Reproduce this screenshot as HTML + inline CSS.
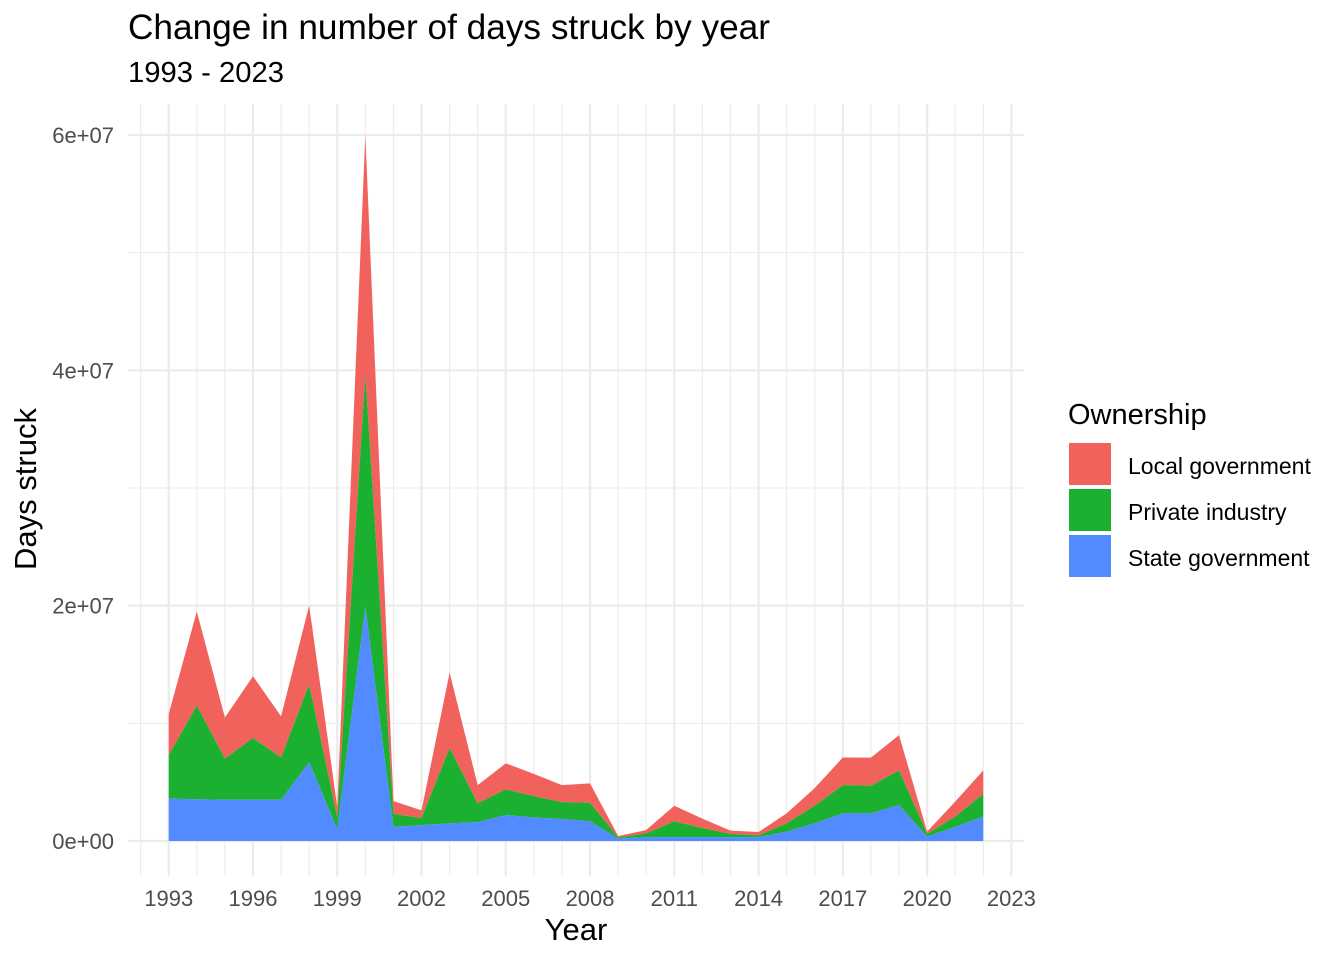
<!DOCTYPE html>
<html><head><meta charset="utf-8"><style>
body{margin:0;background:#fff;}
svg text{font-family:"Liberation Sans",Arial,sans-serif;}
</style></head><body>
<svg id="chart" width="1344" height="960" xmlns="http://www.w3.org/2000/svg">
<rect width="1344" height="960" fill="#fff"/>
<text x="128" y="39" font-size="35" fill="#000" textLength="642" lengthAdjust="spacingAndGlyphs">Change in number of days struck by year</text>
<text x="128" y="82" font-size="29" fill="#000" textLength="156" lengthAdjust="spacingAndGlyphs">1993 - 2023</text>
<g id="grid"></g><g id="areas"></g><g id="axes"></g>
<text x="576" y="940" font-size="31" text-anchor="middle" fill="#000">Year</text>
<text transform="translate(36,489) rotate(-90)" font-size="31" text-anchor="middle" fill="#000">Days struck</text>
<text x="1068" y="424" font-size="29" fill="#000">Ownership</text>
<g><rect x="1069" y="443" width="42" height="42" fill="#F2625D"/><text x="1128" y="474" font-size="23">Local government</text></g>
<g><rect x="1069" y="489" width="42" height="42" fill="#1BB02F"/><text x="1128" y="520" font-size="23">Private industry</text></g>
<g><rect x="1069" y="535" width="42" height="42" fill="#528AFF"/><text x="1128" y="566" font-size="23">State government</text></g>
</svg>
<script>
const years=[1993,1994,1995,1996,1997,1998,1999,2000,2001,2002,2003,2004,2005,2006,2007,2008,2009,2010,2011,2012,2013,2014,2015,2016,2017,2018,2019,2020,2021,2022];
const stateVals=[3.6,3.55,3.5,3.5,3.5,6.7,1.0,19.9,1.2,1.35,1.5,1.6,2.2,2.0,1.87,1.67,0.2,0.33,0.33,0.33,0.33,0.33,0.8,1.5,2.35,2.35,3.05,0.37,1.2,2.07];
const privateVals=[3.7,7.95,3.5,5.25,3.6,6.6,1.0,19.7,1.1,0.6,6.4,1.6,2.2,1.8,1.43,1.58,0.1,0.32,1.34,0.77,0.27,0.15,0.7,1.5,2.4,2.35,2.95,0.23,0.87,1.93];
const localVals=[3.5,8.0,3.5,5.25,3.5,6.7,0.9,20.4,1.1,0.65,6.4,1.55,2.2,1.9,1.45,1.65,0.12,0.28,1.33,0.8,0.28,0.28,0.85,1.5,2.35,2.38,3.0,0.2,1.28,2.0];
const yTicks=[0,20,40,60];
const yTickLabels=["0e+00","2e+07","4e+07","6e+07"];
const yMinor=[10,30,50];
const xTicks=[1993,1996,1999,2002,2005,2008,2011,2014,2017,2020,2023];
const NS="http://www.w3.org/2000/svg";
const L=128,R=1024,T=104,B=876.3;
const xMin=1991.55,xMax=2023.45,yMin=-3,yMax=62.63;
const sx=v=>L+(v-xMin)/(xMax-xMin)*(R-L);
const sy=v=>B-(v-yMin)/(yMax-yMin)*(B-T);
function mk(tag,attrs,parent){const e=document.createElementNS(NS,tag);for(const k in attrs)e.setAttribute(k,attrs[k]);parent.appendChild(e);return e;}
const grid=document.getElementById('grid'),areas=document.getElementById('areas'),axes=document.getElementById('axes');

yMinor.forEach(v=>{const l=mk('line',{x1:L,x2:R,y1:sy(v),y2:sy(v),stroke:'#ebebeb','stroke-width':1},grid);

});
for(let yr=1992;yr<=2023;yr++){if(xTicks.includes(yr))continue;const l=mk('line',{x1:sx(yr),x2:sx(yr),y1:T,y2:B,stroke:'#ebebeb','stroke-width':1.1},grid);

}
yTicks.forEach((v,i)=>{const l=mk('line',{x1:L,x2:R,y1:sy(v),y2:sy(v),stroke:'#ebebeb','stroke-width':2.2},grid);


const t=mk('text',{x:L-14,y:sy(v)+8,'font-size':22,'text-anchor':'end',fill:'#4d4d4d'},axes);t.textContent=yTickLabels[i];

});
xTicks.forEach(v=>{const l=mk('line',{x1:sx(v),x2:sx(v),y1:T,y2:B,stroke:'#ebebeb','stroke-width':2.2},grid);


const t=mk('text',{x:sx(v),y:906,'font-size':22,'text-anchor':'middle',fill:'#4d4d4d'},axes);t.textContent=v;

});
const c1=stateVals,c2=stateVals.map((v,i)=>v+privateVals[i]),c3=c2.map((v,i)=>v+localVals[i]);
function area(lo,hi,color,name){let d='M'+years.map((y,i)=>sx(y)+','+sy(hi[i])).join('L');
for(let i=years.length-1;i>=0;i--)d+='L'+sx(years[i])+','+sy(lo?lo[i]:0);d+='Z';
const p=mk('path',{d:d,fill:color},areas);

}
area(c2,c3,'#F2625D','area-local-government');
area(c1,c2,'#1BB02F','area-private-industry');
area(null,c1,'#528AFF','area-state-government');
</script>
</body></html>
